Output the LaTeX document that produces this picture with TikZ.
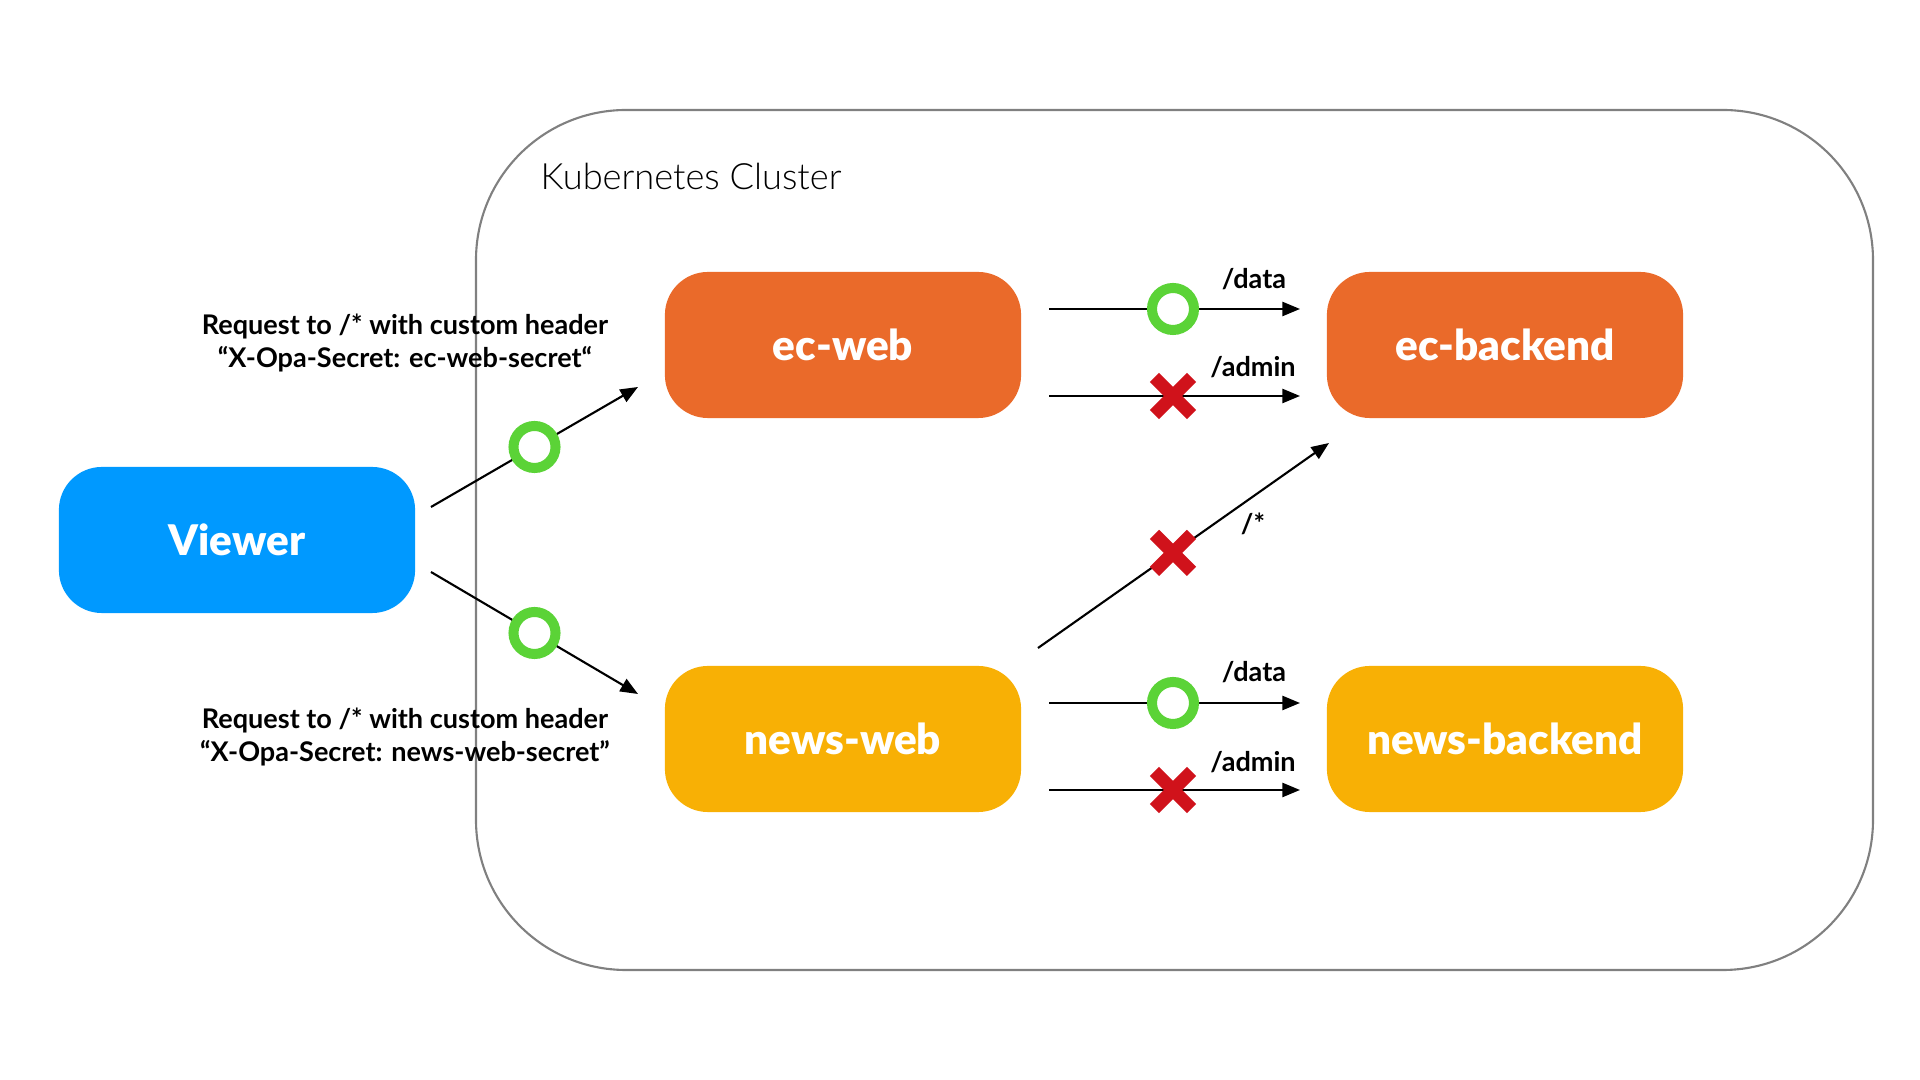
\documentclass[tikz,border=0pt]{standalone}
\usepackage{fontspec}
\setmainfont{Lato}
\newfontfamily\heavyfont{Lato Black}
\newfontfamily\lightfont{Lato Light}
\usetikzlibrary{arrows.meta,shapes.misc}
\definecolor{ecorange}{HTML}{EA6A2A}
\definecolor{newsyellow}{HTML}{F8B005}
\definecolor{viewerblue}{HTML}{0099FF}
\definecolor{okgreen}{HTML}{5BD337}
\definecolor{ngred}{HTML}{D0121B}
\definecolor{clustergray}{HTML}{808080}
\tikzset{
  svc/.style={rounded corners=0.43cm, minimum width=3.56cm, minimum height=1.46cm,
    text=white, font=\heavyfont\fontsize{12}{14}\selectfont, inner sep=0pt},
  conn/.style={line width=0.6pt, -{Triangle[length=5pt,width=4pt]}},
  okmark/.style={circle, draw=okgreen, line width=2.85pt, fill=white, minimum size=0.42cm, inner sep=0pt},
  ngmark/.style={cross out, draw=ngred, line width=3.7pt, line cap=butt, minimum size=0.37cm, inner sep=0pt, outer sep=0pt},
  lbl/.style={font=\bfseries\fontsize{7.7}{9.2}\selectfont, align=center, inner sep=0pt},
  plbl/.style={font=\bfseries\fontsize{7.7}{9.2}\selectfont, inner sep=0pt},
}
\begin{document}
\begin{tikzpicture}[x=0.01cm,y=-0.01cm]
\useasboundingbox (0,0) rectangle (1920,1080);
\draw[clustergray, line width=0.6pt, rounded corners=1.5cm] (476,110) rectangle (1873,970);
\node[anchor=west, inner sep=0pt, font=\lightfont\fontsize{10.3}{12}\selectfont] (clusterlbl) at (540,176) {Kubernetes Cluster};

\node[svc, fill=viewerblue] (viewer) at (237,540) {Viewer};
\node[svc, fill=ecorange] (ecweb) at (843,345) {ec-web};
\node[svc, fill=ecorange] (ecbackend) at (1505,345) {ec-backend};
\node[svc, fill=newsyellow] (newsweb) at (843,739) {news-web};
\node[svc, fill=newsyellow] (newsbackend) at (1505,739) {news-backend};

\coordinate (v1) at (431,507);
\coordinate (e1) at (638,387);
\coordinate (v2) at (431,572);
\coordinate (n1) at (638,694);
\coordinate (ecd0) at (1049,309);
\coordinate (ecd1) at (1300,309);
\coordinate (eca0) at (1049,396);
\coordinate (eca1) at (1300,396);
\coordinate (nd0) at (1049,703);
\coordinate (nd1) at (1300,703);
\coordinate (na0) at (1049,790);
\coordinate (na1) at (1300,790);
\coordinate (dg0) at (1038,648);
\coordinate (dg1) at (1329,443);

\draw[conn] (v1) -- node[okmark, pos=0.5] (m1) {} (e1);
\draw[conn] (v2) -- node[okmark, pos=0.5] (m2) {} (n1);
\draw[conn] (ecd0) -- node[okmark, pos=0.494] (m3) {} (ecd1);
\draw[conn] (eca0) -- node[ngmark, pos=0.494] (m4) {} (eca1);
\draw[conn] (nd0) -- node[okmark, pos=0.494] (m5) {} (nd1);
\draw[conn] (na0) -- node[ngmark, pos=0.494] (m6) {} (na1);
\draw[conn] (dg0) -- node[ngmark, pos=0.464] (m7) {} (dg1);

\node[plbl] (l1) at (1254,279) {/data};
\node[plbl] (l2) at (1253,367) {/admin};
\node[plbl] (l3) at (1254,672) {/data};
\node[plbl] (l4) at (1253,762) {/admin};
\node[plbl] (l5) at (1253,524) {/*};

\node[lbl] (req1) at (405,343) {Request to /* with custom header\\“X-Opa-Secret: ec-web-secret“};
\node[lbl] (req2) at (405,737) {Request to /* with custom header\\“X-Opa-Secret: news-web-secret”};
\end{tikzpicture}
\end{document}
